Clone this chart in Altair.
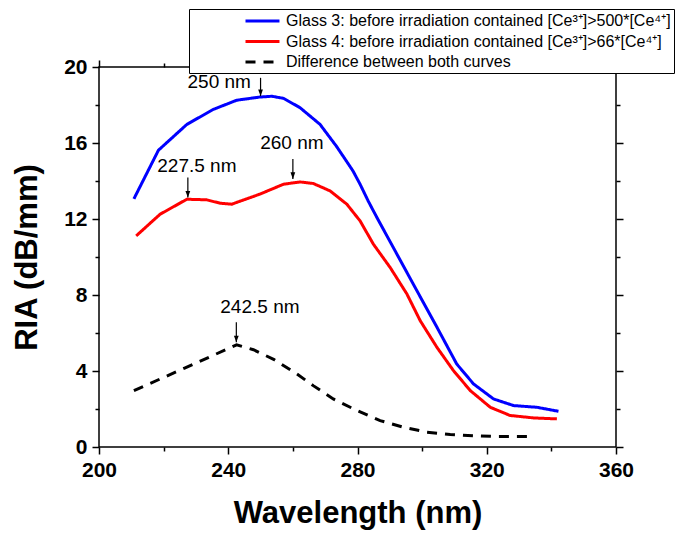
import altair as alt
import pandas as pd

# ---- data ----
blue_nm = [210.8, 218.4, 227.2, 235.4, 242.6, 249.8, 253.5, 257.1, 262.2, 268.4, 273.6, 278.6,
           280.8, 283.3, 286.0, 292.2, 298.4, 304.6, 310.7, 315.9, 322.1, 328.3, 335.5, 342.2]
blue_ria = [13.06, 15.62, 16.98, 17.77, 18.25, 18.42, 18.46, 18.35, 17.86, 16.98, 15.8, 14.53,
            13.83, 12.95, 12.08, 10.15, 8.22, 6.30, 4.37, 3.32, 2.53, 2.18, 2.09, 1.88]

red_nm = [211.5, 218.9, 227.2, 233.3, 237.5, 241.1, 249.8, 257.1, 262.2, 266.3, 271.5, 276.7,
          280.8, 284.9, 290.1, 295.3, 299.4, 304.6, 309.7, 314.9, 321.1, 327.2, 334.5, 341.7]
red_ria = [11.11, 12.25, 13.04, 13.01, 12.83, 12.78, 13.31, 13.83, 13.95, 13.87, 13.48, 12.78,
           11.90, 10.68, 9.45, 8.05, 6.65, 5.24, 4.02, 2.97, 2.09, 1.66, 1.53, 1.48]

diff_nm = [210.8, 226.5, 242.6, 247.8, 254.2, 261.2, 266.3, 272.5, 279.8, 287.0, 294.2, 301.5,
           308.7, 315.9, 323.1, 334.0]
diff_ria = [2.97, 4.15, 5.38, 5.12, 4.6, 3.85, 3.23, 2.53, 1.92, 1.39, 1.04, 0.78,
            0.66, 0.59, 0.55, 0.55]

series_names = [
    "Glass 3: before irradiation contained [Ce³⁺]>500*[Ce⁴⁺]",
    "Glass 4: before irradiation contained [Ce³⁺]>66*[Ce⁴⁺]",
    "Difference between both curves",
]
series_colors = ["#0000ff", "#ff0000", "#000000"]
series_dashes = [[1, 0], [1, 0], [10, 8]]

ann_labels = ["250 nm", "227.5 nm", "260 nm", "242.5 nm"]
ann_arrow_x = [250.0, 227.5, 260.0, 242.5]
ann_arrow_top = [19.43, 14.18, 15.16, 6.56]
ann_arrow_tip = [18.47, 13.13, 14.11, 5.51]
ann_text_x = [237.2, 230.3, 259.7, 249.8]
ann_text_y = [19.22, 14.79, 16.02, 7.35]

x_ticks = [200, 220, 240, 260, 280, 300, 320, 340, 360]
y_ticks = [0, 2, 4, 6, 8, 10, 12, 14, 16, 18, 20]

# ---- tables ----
rows = []
for name, xs, ys in zip(series_names, [blue_nm, red_nm, diff_nm], [blue_ria, red_ria, diff_ria]):
    for i, (xv, yv) in enumerate(zip(xs, ys)):
        rows.append({"series": name, "nm": xv, "ria": yv, "order": i})
df = pd.DataFrame(rows)

ann = pd.DataFrame({
    "label": ann_labels, "ax": ann_arrow_x, "atop": ann_arrow_top, "atip": ann_arrow_tip,
    "tx": ann_text_x, "ty": ann_text_y,
})

FONT = "Liberation Sans"
x_scale = alt.Scale(domain=[200, 360], nice=False, zero=False)
y_scale = alt.Scale(domain=[0, 20], nice=False, zero=False)

x_tick_size = {"condition": {"test": "datum.value % 40 != 0", "value": 4}, "value": 7}
y_tick_size = {"condition": {"test": "datum.value % 4 != 0", "value": 4}, "value": 7}

common_axis = dict(grid=False, domain=False, tickColor="black", tickWidth=1.5,
                   labelFont=FONT, labelFontSize=21, labelFontWeight="bold", labelColor="black",
                   titleFont=FONT, titleFontSize=31, titleFontWeight="bold", titleColor="black")

x_bottom = alt.Axis(orient="bottom", values=x_ticks, tickSize=x_tick_size,
                    labelExpr="datum.value % 40 == 0 ? datum.label : ''",
                    labelFlush=False, labelPadding=5, titlePadding=18, **common_axis)
y_left = alt.Axis(orient="left", values=y_ticks, tickSize=y_tick_size,
                  labelExpr="datum.value % 4 == 0 ? datum.label : ''",
                  labelFlush=False, labelPadding=5, titlePadding=20, **common_axis)
x_top = alt.Axis(orient="top", values=x_ticks, tickSize=x_tick_size, labels=False,
                 grid=False, domain=False, tickColor="black", tickWidth=1.5)
y_right = alt.Axis(orient="right", values=y_ticks, tickSize=y_tick_size, labels=False,
                   grid=False, domain=False, tickColor="black", tickWidth=1.5)

# legend symbol: a 34px line drawn from a 15px symbol slot
legend = alt.Legend(
    title=" ", titleOrient="left", titlePadding=52, titleFontSize=10,
    orient="none", legendX=90, legendY=-58,
    strokeColor="black", fillColor="white", padding=3, cornerRadius=0,
    symbolType="M-1,0L3.53,0", symbolSize=225, symbolStrokeWidth=3,
    labelFont=FONT, labelFontSize=16, labelColor="black", labelOffset=24,
    labelLimit=0, rowPadding=3.5,
)

lines = alt.Chart(df).mark_line(strokeWidth=3).encode(
    x=alt.X("nm:Q", scale=x_scale, axis=x_bottom, title="Wavelength (nm)"),
    y=alt.Y("ria:Q", scale=y_scale, axis=y_left, title="RIA (dB/mm)"),
    color=alt.Color("series:N", scale=alt.Scale(domain=series_names, range=series_colors),
                    legend=legend, title=" "),
    strokeDash=alt.StrokeDash("series:N", scale=alt.Scale(domain=series_names, range=series_dashes),
                              legend=legend, title=" "),
    order="order:Q",
)

mirror = alt.Chart(df).mark_point(opacity=0).encode(
    x=alt.X("nm:Q", scale=x_scale, axis=x_top, title=None),
    y=alt.Y("ria:Q", scale=y_scale, axis=y_right, title=None),
)

arrows = alt.Chart(ann).mark_rule(color="black", strokeWidth=1.2).encode(
    x=alt.X("ax:Q", scale=x_scale, axis=None),
    y=alt.Y("atop:Q", scale=y_scale, axis=None),
    y2="atip:Q",
)

heads = alt.Chart(ann).mark_point(
    shape="M-0.8,-2.2L0.8,-2.2L0,0Z", size=36, filled=True, color="black", opacity=1
).encode(
    x=alt.X("ax:Q", scale=x_scale, axis=None),
    y=alt.Y("atip:Q", scale=y_scale, axis=None),
)

texts = alt.Chart(ann).mark_text(font=FONT, fontSize=19, color="black",
                                 align="center", baseline="middle").encode(
    x=alt.X("tx:Q", scale=x_scale, axis=None),
    y=alt.Y("ty:Q", scale=y_scale, axis=None),
    text="label:N",
)

chart = alt.layer(lines, mirror, arrows, heads, texts).resolve_axis(
    x="independent", y="independent"
).properties(
    width=517, height=380,
    padding={"left": 3, "top": 0, "right": 5, "bottom": 5},
    background="white",
).configure_view(stroke="black", strokeWidth=1.5)

chart.save("out.html", embed_options={"renderer": "svg", "actions": False})
